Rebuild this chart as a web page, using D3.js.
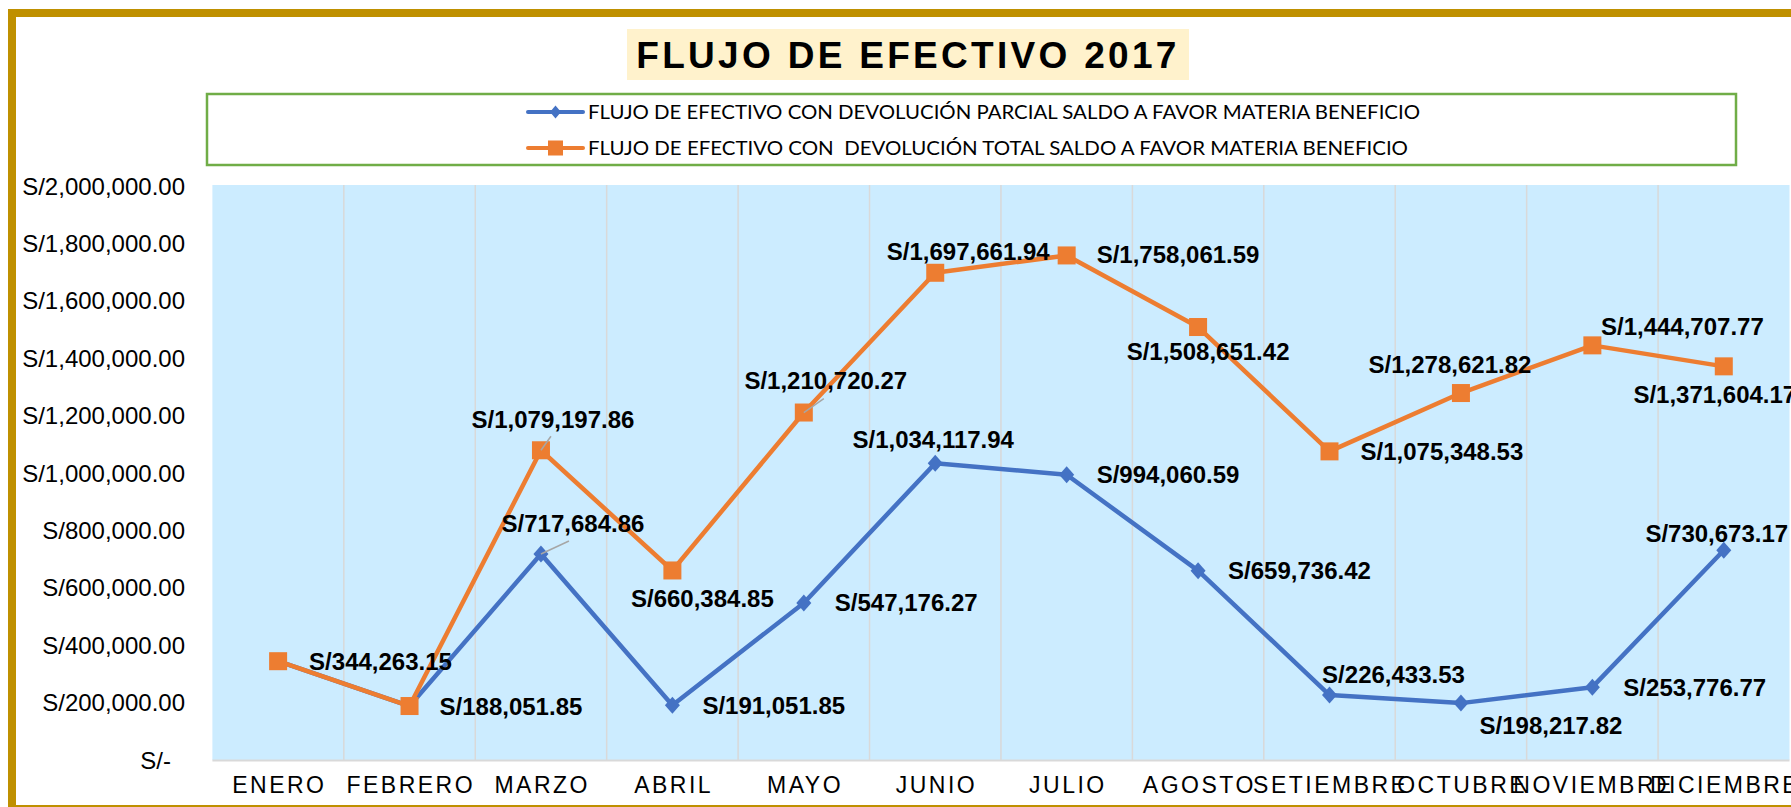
<!DOCTYPE html>
<html>
<head>
<meta charset="utf-8">
<script src="https://cdn.jsdelivr.net/npm/d3@7"></script>
<style>
  body { margin: 0; background: #fff; }
  svg { display: block; font-family: "Liberation Sans", Arial, sans-serif; }
</style>
</head>
<body>
<svg id="chart"></svg>
<script>
const WIDTH = 1791;
const HEIGHT = 807;

const months = ["ENERO", "FEBRERO", "MARZO", "ABRIL", "MAYO", "JUNIO", "JULIO",
  "AGOSTO", "SETIEMBRE", "OCTUBRE", "NOVIEMBRE", "DICIEMBRE"];
const parcial = [344263.15, 188051.85, 717684.86, 191051.85, 547176.27, 1034117.94,
  994060.59, 659736.42, 226433.53, 198217.82, 253776.77, 730673.17];
const total = [344263.15, 188051.85, 1079197.86, 660384.85, 1210720.27, 1697661.94,
  1758061.59, 1508651.42, 1075348.53, 1278621.82, 1444707.77, 1371604.17];
const yTicks = [0, 200000, 400000, 600000, 800000, 1000000, 1200000, 1400000, 1600000, 1800000, 2000000];
const seriesNames = [
  "FLUJO DE EFECTIVO CON DEVOLUCIÓN PARCIAL SALDO A FAVOR MATERIA BENEFICIO",
  "FLUJO DE EFECTIVO CON  DEVOLUCIÓN TOTAL SALDO A FAVOR MATERIA BENEFICIO"
];

// label placement per point: [anchor, dx, dy, leaderDx, leaderDy] (null = hidden)
const parcialLabelPos = [null, null, ["middle", 32, -31, 28, -13], ["start", 30, 0], ["start", 31, 0],
  ["middle", -2, -24], ["start", 30, 0], ["start", 30, 0], ["middle", 64, -21],
  ["middle", 90, 22], ["start", 31, 0], ["middle", -7, -17]];
const totalLabelPos = [["start", 31, 0], ["start", 30, 0], ["middle", 12, -31, 10, -14], ["middle", 30, 28],
  ["middle", 22, -32, 20, -14], ["middle", 33, -21], ["start", 30, -1], ["middle", 10, 24],
  ["start", 31, 0], ["middle", -11, -29], ["middle", 90, -19], ["middle", -9, 28]];

const BLUE = "#4472C4";
const ORANGE = "#ED7D31";

const svg = d3.select("#chart").attr("width", WIDTH).attr("height", HEIGHT);

// outer gold frame
svg.append("rect")
  .attr("x", 12).attr("y", 13)
  .attr("width", 1820).attr("height", 796)
  .attr("fill", "#fff")
  .attr("stroke", "#BF9000")
  .attr("stroke-width", 8);

// title
svg.append("rect")
  .attr("x", 627).attr("y", 29)
  .attr("width", 562).attr("height", 51)
  .attr("fill", "#FFF2CC");
svg.append("text")
  .attr("x", 908).attr("y", 68)
  .attr("text-anchor", "middle")
  .attr("font-size", 37)
  .attr("font-weight", "bold")
  .attr("letter-spacing", 3.3)
  .text("FLUJO DE EFECTIVO 2017");

// legend
svg.append("rect")
  .attr("x", 207).attr("y", 94)
  .attr("width", 1529).attr("height", 71)
  .attr("fill", "#fff")
  .attr("stroke", "#70AD47")
  .attr("stroke-width", 2.5);

const legend = svg.append("g").attr("class", "legend");
[[BLUE, "diamond", 112, 832], [ORANGE, "square", 148, 820]].forEach(([color, shape, ly, len], i) => {
  legend.append("line")
    .attr("x1", 528).attr("x2", 583)
    .attr("y1", ly).attr("y2", ly)
    .attr("stroke", color).attr("stroke-width", 4).attr("stroke-linecap", "round");
  if (shape === "diamond") {
    legend.append("path")
      .attr("d", `M555.5,${ly - 6.5}L561,${ly}L555.5,${ly + 6.5}L550,${ly}Z`)
      .attr("fill", color);
  } else {
    legend.append("rect")
      .attr("x", 548).attr("y", ly - 7.5)
      .attr("width", 15).attr("height", 15)
      .attr("fill", color);
  }
  legend.append("text")
    .attr("x", 588).attr("y", ly + 7)
    .attr("font-family", "Lato, 'Liberation Sans', sans-serif")
    .attr("font-size", 20)
    .attr("textLength", len)
    .attr("lengthAdjust", "spacingAndGlyphs")
    .style("white-space", "pre")
    .text(seriesNames[i]);
});

// scales
const x = d3.scaleBand().domain(months).range([212.4, 1789.5]).padding(0);
const y = d3.scaleLinear().domain([0, 2000000]).range([760, 186]);

// plot area
svg.append("rect")
  .attr("x", x.range()[0]).attr("y", y(2000000) - 1)
  .attr("width", x.range()[1] - x.range()[0])
  .attr("height", y(0) - y(2000000) + 1)
  .attr("fill", "#CCECFF");

svg.append("g")
  .attr("class", "grid")
  .selectAll("line")
  .data(months.slice(1))
  .join("line")
  .attr("x1", (d) => x(d)).attr("x2", (d) => x(d))
  .attr("y1", y(2000000) - 1).attr("y2", y(0))
  .attr("stroke", "#D9D9D9")
  .attr("stroke-width", 1.5);

svg.append("line")
  .attr("x1", x.range()[0]).attr("x2", x.range()[1])
  .attr("y1", y(0) + 0.5).attr("y2", y(0) + 0.5)
  .attr("stroke", "#D9D9D9").attr("stroke-width", 2);

// y axis labels
const fmt = d3.format(",.2f");
svg.append("g")
  .attr("class", "y-axis")
  .selectAll("text")
  .data(yTicks)
  .join("text")
  .attr("x", (d) => (d === 0 ? 171 : 185))
  .attr("y", (d) => y(d) + 8.5)
  .attr("text-anchor", "end")
  .attr("font-size", 24)
  .attr("fill", "#000")
  .text((d) => (d === 0 ? "S/-" : "S/" + fmt(d)));

// x axis labels
svg.append("g")
  .attr("class", "x-axis")
  .selectAll("text")
  .data(months)
  .join("text")
  .attr("x", (d) => x(d) + x.bandwidth() / 2 + 1.25)
  .attr("y", 792.5)
  .attr("text-anchor", "middle")
  .attr("font-size", 23)
  .attr("letter-spacing", 2.5)
  .attr("fill", "#000")
  .text((d) => d);

// lines
const line = d3.line()
  .x((d, i) => x(months[i]) + x.bandwidth() / 2)
  .y((d) => y(d));

const cx = (i) => x(months[i]) + x.bandwidth() / 2;

svg.append("path")
  .datum(parcial)
  .attr("d", line)
  .attr("fill", "none")
  .attr("stroke", BLUE)
  .attr("stroke-width", 4.5)
  .attr("stroke-linejoin", "round");

svg.append("g")
  .selectAll("path")
  .data(parcial)
  .join("path")
  .attr("d", (d, i) => `M${cx(i)},${y(d) - 8.5}L${cx(i) + 7.5},${y(d)}L${cx(i)},${y(d) + 8.5}L${cx(i) - 7.5},${y(d)}Z`)
  .attr("fill", BLUE);

svg.append("path")
  .datum(total)
  .attr("d", line)
  .attr("fill", "none")
  .attr("stroke", ORANGE)
  .attr("stroke-width", 4.5)
  .attr("stroke-linejoin", "round");

svg.append("g")
  .selectAll("rect")
  .data(total)
  .join("rect")
  .attr("x", (d, i) => cx(i) - 9)
  .attr("y", (d) => y(d) - 9)
  .attr("width", 18).attr("height", 18)
  .attr("fill", ORANGE);

// data labels
function drawLabels(values, positions) {
  const g = svg.append("g").attr("class", "labels");
  values.forEach((v, i) => {
    const p = positions[i];
    if (!p) return;
    const px = cx(i);
    const py = y(v);
    if (p.length > 3) {
      g.append("line")
        .attr("x1", px).attr("y1", py)
        .attr("x2", px + p[3]).attr("y2", py + p[4])
        .attr("stroke", "#A6A6A6").attr("stroke-width", 1.5);
    }
    g.append("text")
      .attr("x", px + p[1])
      .attr("y", py + p[2] + 8.5)
      .attr("text-anchor", p[0])
      .attr("font-size", 24)
      .attr("font-weight", "bold")
      .attr("fill", "#000")
      .text("S/" + fmt(v));
  });
}
drawLabels(parcial, parcialLabelPos);
drawLabels(total, totalLabelPos);
</script>
</body>
</html>
